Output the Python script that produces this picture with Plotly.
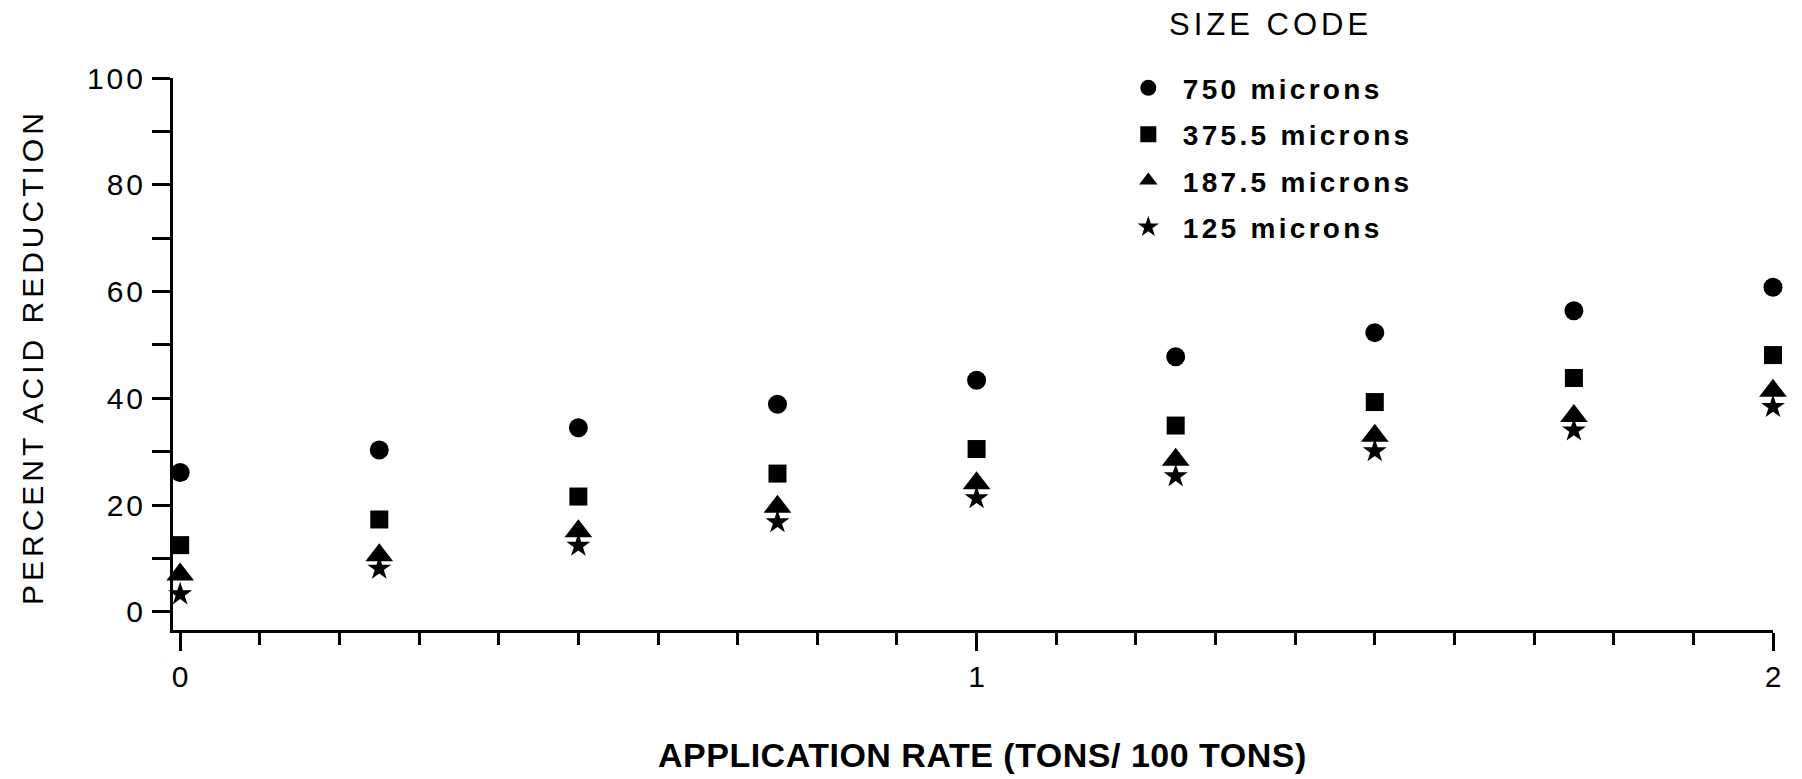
import plotly.graph_objects as go

# Application rate (tons of limestone per 100 tons of material)
rate = [0, 0.25, 0.5, 0.75, 1.0, 1.25, 1.5, 1.75, 2.0]

# Percent acid reduction for each particle size
reduction_750 = [26.1, 30.3, 34.5, 38.9, 43.4, 47.8, 52.3, 56.4, 60.8]
reduction_375_5 = [12.5, 17.3, 21.6, 25.9, 30.5, 34.9, 39.3, 43.8, 48.1]
reduction_187_5 = [7.0, 10.6, 15.1, 19.7, 24.1, 28.5, 33.0, 36.7, 41.4]
reduction_125 = [3.3, 8.1, 12.4, 16.8, 21.3, 25.4, 30.1, 34.0, 38.4]

series_names = ["750 microns", "375.5 microns", "187.5 microns", "125 microns"]
series_values = [reduction_750, reduction_375_5, reduction_187_5, reduction_125]
series_symbols = ["circle", "square", "triangle-up", "star"]
series_sizes = [19, 18, 24, 18]

y_tickvals = [0, 10, 20, 30, 40, 50, 60, 70, 80, 90, 100]
y_ticktext = ["0", "", "20", "", "40", "", "60", "", "80", "", "100"]
x_tickvals = [0, 1, 2]
x_ticktext = ["0", "1", "2"]

FONT = "Liberation Sans, Arial, Helvetica, sans-serif"

# plot area in pixels: left 173, right 1773, top 78, bottom 630
PLOT_L, PLOT_W, PLOT_B, PLOT_H = 173, 1600, 630, 552


def spaced(text, px):
    return f'<span style="letter-spacing:{px}px">{text}</span>'


def paper_x(px):
    return (px - PLOT_L) / PLOT_W


def paper_y(py):
    return (PLOT_B - py) / PLOT_H


fig = go.Figure()
for name, vals, sym, size in zip(series_names, series_values, series_symbols, series_sizes):
    fig.add_trace(go.Scatter(
        x=rate, y=vals, mode="markers", name=spaced(name, 3.3),
        legendgroup=name,
        marker=dict(symbol=sym, size=size, color="black", line=dict(width=0)),
        cliponaxis=False,
    ))

fig.update_layout(
    width=1802, height=779,
    paper_bgcolor="white", plot_bgcolor="white",
    margin=dict(l=173, r=29, t=78, b=149),
    font=dict(family=FONT, color="black"),
    showlegend=True,
    legend=dict(
        x=0.588, xanchor="left", y=1.027, yanchor="top",
        font=dict(size=28, family=FONT, weight="bold"),
        itemsizing="trace", itemwidth=59,
        tracegroupgap=7,
        bgcolor="rgba(0,0,0,0)", borderwidth=0,
    ),
    annotations=[
        dict(
            text=spaced("SIZE CODE", 4), xref="paper", yref="paper",
            x=paper_x(1270), y=paper_y(24),
            xanchor="center", yanchor="middle", showarrow=False,
            font=dict(size=31, family=FONT),
        ),
        dict(
            text=spaced("PERCENT ACID REDUCTION", 4), xref="paper", yref="paper",
            x=paper_x(32), y=paper_y(357), textangle=-90,
            xanchor="center", yanchor="middle", showarrow=False,
            font=dict(size=30, family=FONT),
        ),
        dict(
            text=spaced("APPLICATION RATE (TONS/ 100 TONS)", 0.5), xref="paper", yref="paper",
            x=paper_x(982), y=paper_y(755),
            xanchor="center", yanchor="middle", showarrow=False,
            font=dict(size=34, family=FONT, weight="bold"),
        ),
    ],
)

fig.update_xaxes(
    range=[-0.009, 2.0],
    showgrid=False, zeroline=False,
    showline=True, linecolor="black", linewidth=3,
    tickmode="array", tickvals=x_tickvals, ticktext=x_ticktext,
    ticks="outside", ticklen=18, tickwidth=3, tickcolor="black",
    tickfont=dict(size=30, family=FONT),
    minor=dict(dtick=0.1, tick0=0, ticks="outside", ticklen=12, tickwidth=3, tickcolor="black"),
    automargin=False,
)

fig.update_yaxes(
    range=[-3.4, 100],
    showgrid=False, zeroline=False,
    showline=True, linecolor="black", linewidth=3,
    tickmode="array", tickvals=y_tickvals, ticktext=[spaced(t, 3) for t in y_ticktext],
    ticks="outside", ticklen=18, tickwidth=3, tickcolor="black",
    tickfont=dict(size=30, family=FONT),
    automargin=False,
)

fig.write_html("out.html")
